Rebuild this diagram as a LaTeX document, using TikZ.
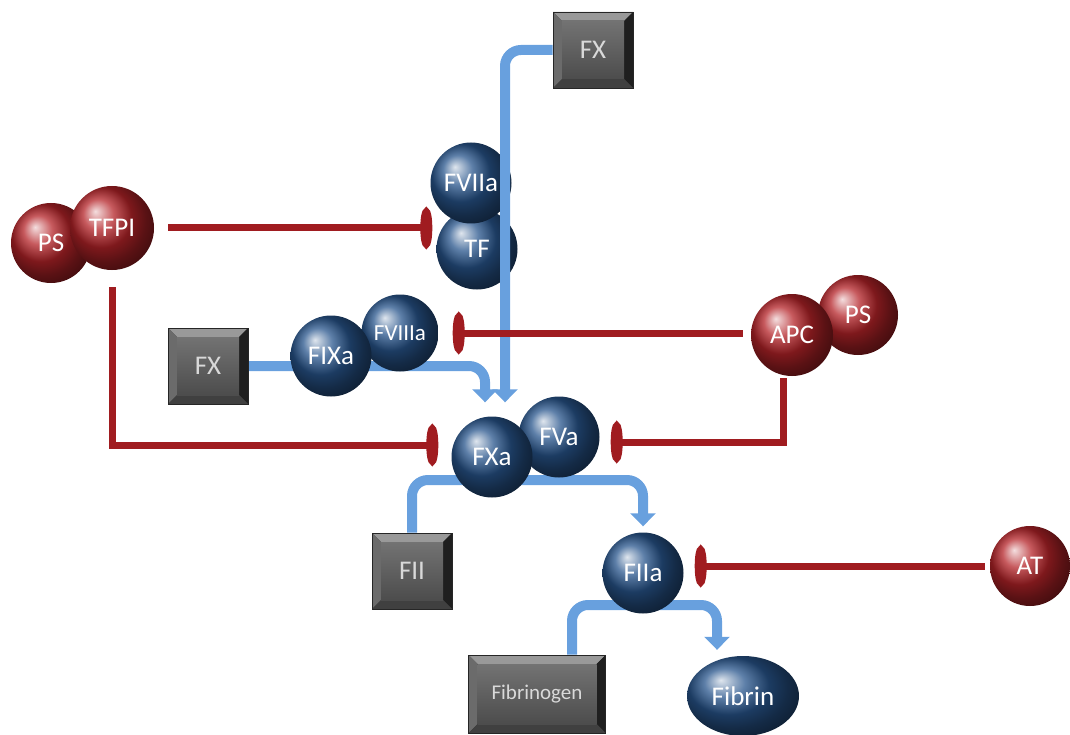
\documentclass[tikz,border=0pt]{standalone}
\usepackage{fontspec}
\setmainfont{Carlito}
\usetikzlibrary{arrows.meta,positioning,shapes.geometric,calc,backgrounds}

\definecolor{flowblue}{RGB}{104,160,222}
\definecolor{inhibred}{RGB}{160,28,32}
\definecolor{ballblue}{RGB}{40,85,140}
\definecolor{ballred}{RGB}{180,35,40}

\tikzset{
  labelfont/.style={font=\fontsize{27}{30}\selectfont},
  bluesphere/.style={circle, minimum size=81pt, inner sep=0pt, ball color=ballblue, text=white, labelfont},
  redsphere/.style={circle, minimum size=82pt, inner sep=0pt, ball color=ballred, text=white, labelfont},
  greybox/.style={rectangle, minimum width=80pt, minimum height=76pt, draw=black!85, line width=0.6pt,
    text=white!85!black, labelfont,
    path picture={
      \coordinate (bvsw) at (path picture bounding box.south west);
      \coordinate (bvne) at (path picture bounding box.north east);
      \coordinate (bvnw) at (bvsw |- bvne);
      \coordinate (bvse) at (bvne |- bvsw);
      \fill[black!80] (bvsw) rectangle (bvne);
      % bevel faces
      \fill[black!40] (bvnw) -- (bvne) -- ($(bvne)+(-9pt,-9pt)$) -- ($(bvnw)+(9pt,-9pt)$) -- cycle;
      \fill[black!58] (bvnw) -- ($(bvnw)+(9pt,-9pt)$) -- ($(bvsw)+(9pt,9pt)$) -- (bvsw) -- cycle;
      \fill[black!88] (bvne) -- ($(bvne)+(-9pt,-9pt)$) -- ($(bvse)+(-9pt,9pt)$) -- (bvse) -- cycle;
      \fill[black!75] (bvsw) -- ($(bvsw)+(9pt,9pt)$) -- ($(bvse)+(-9pt,9pt)$) -- (bvse) -- cycle;
      \shade[top color=black!55, bottom color=black!70] ($(bvsw)+(9pt,9pt)$) rectangle ($(bvne)+(-9pt,-9pt)$);
    }},
  activates/.style={draw=flowblue, line width=10pt, rounded corners=16pt, -{Triangle[width=25pt,length=13pt]}},
  inhibits/.style={draw=inhibred, line width=7pt, -{Ellipse[length=12pt,width=40pt]}},
}

\begin{document}
\begin{tikzpicture}[x=1pt,y=-1pt]
  \useasboundingbox (0,0) rectangle (1070,735);

  % Substrates
  \node[greybox] (fxtop) at (593,50) {FX};
  \node[greybox] (fxl) at (208,366) {FX};
  \node[greybox] (fii) at (412,571) {FII};
  \node[greybox, minimum width=137pt, minimum height=78pt, font=\fontsize{21}{24}\selectfont] (fibrinogen) at (537,694) {Fibrinogen};

  % Complexes
  \node[bluesphere] (tf) at (477,249) {TF};
  \node[bluesphere] (fviia) at (471,183) {FVIIa};
  \node[bluesphere, minimum size=77pt, font=\fontsize{23}{26}\selectfont] (fviiia) at (400,333) {FVIIIa};
  \node[bluesphere] (fixa) at (331,356) {FIXa};
  \node[bluesphere] (fva) at (559,437) {FVa};
  \node[bluesphere] (fxa) at (492,457) {FXa};
  \node[bluesphere] (fiia) at (643,573) {FIIa};
  \node[ellipse, minimum width=112pt, minimum height=80pt, inner sep=0pt, ball color=ballblue, text=white, labelfont] (fibrin) at (743,696) {Fibrin};

  % Inhibitors
  \node[redsphere, minimum size=80pt] (psl) at (51,243) {PS};
  \node[redsphere, minimum size=84pt] (tfpi) at (112,228) {TFPI};
  \node[redsphere, minimum size=80pt] (psr) at (858,315) {PS};
  \node[redsphere] (apc) at (792,335) {APC};
  \node[redsphere, minimum size=80pt] (at) at (1030,566) {AT};

  % Activation
  \draw[activates] (fxtop.west) -| ($(fxa.north)+(13,-14)$);
  \begin{scope}[on background layer]
    \draw[activates] (fxl.east) -| ($(fxa.north)+(-7,-14)$);
    \draw[activates] (fii.north) |- ($(fxa.center)+(0,23)$) -| ($(fiia.north)+(0,-6)$);
    \draw[activates] ($(fibrinogen.north)+(35,0)$) |- ($(fiia.center)+(0,32)$) -| ($(fibrin.north)+(-26,-6)$);
  \end{scope}

  % Inhibition
  \draw[inhibits] ($(tfpi.east)+(14,0)$) -- ($(tfpi.east -| tf.west)+(-4,0)$);
  \draw[inhibits] ($(tfpi.south)+(0,17)$) |- ($(fxa.west)+(-13,-12)$);
  \draw[inhibits] ($(apc.west)+(-8,-2)$) -- ($(apc.west -| fviiia.east)+(14,-2)$);
  \draw[inhibits] ($(apc.south)+(-9,2)$) |- ($(fva.east)+(11,5)$);
  \draw[inhibits] ($(at.west)+(-5,0)$) -- ($(at.west -| fiia.east)+(11,0)$);
\end{tikzpicture}
\end{document}
